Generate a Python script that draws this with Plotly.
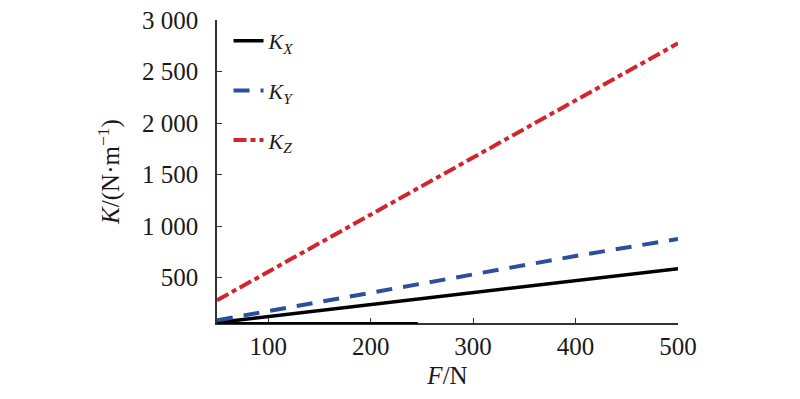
import plotly.graph_objects as go

F = [50, 100, 150, 200, 250, 300, 350, 400, 450, 500]
K_X = [64, 122, 180, 238, 296, 354, 412, 471, 529, 587]
K_Y = [86, 176, 266, 356, 446, 536, 625, 710, 793, 875]
K_Z = [280, 557, 834, 1111, 1388, 1665, 1943, 2220, 2497, 2774]

y_tickvals = [500, 1000, 1500, 2000, 2500, 3000]
y_ticktext = ["500", "1 000", "1 500", "2 000", "2 500", "3 000"]
x_tickvals = [100, 200, 300, 400, 500]

FONT = "Liberation Serif, Times New Roman, Times, serif"

fig = go.Figure()
fig.add_trace(go.Scatter(x=F, y=K_X, mode="lines", name="<i>K</i><sub><i>X</i></sub>",
                         legendgroup="a",
                         line=dict(color="#000000", width=3.5)))
fig.add_trace(go.Scatter(x=F, y=K_Y, mode="lines", name="<i>K</i><sub><i>Y</i></sub>",
                         legendgroup="b",
                         line=dict(color="#2C4EA0", width=4, dash="16px,11px")))
fig.add_trace(go.Scatter(x=F, y=K_Z, mode="lines", name="<i>K</i><sub><i>Z</i></sub>",
                         legendgroup="c",
                         line=dict(color="#D2252D", width=4, dash="13px,4px,5px,4px")))

# dark segment along the bottom axis seen in the reference
fig.add_shape(type="line", xref="x", yref="y domain", x0=50, x1=246, y0=0, y1=0,
              line=dict(color="#000000", width=2))

fig.update_layout(
    width=800, height=399,
    margin=dict(l=209, r=130, t=12, b=84, autoexpand=False),
    paper_bgcolor="white", plot_bgcolor="white",
    font=dict(family=FONT, size=25, color="#1a1a1a"),
    showlegend=True,
    legend=dict(x=0.025, y=1.0, xanchor="left", yanchor="top",
                bgcolor="rgba(0,0,0,0)", font=dict(size=22, family=FONT),
                tracegroupgap=18, itemwidth=30),
)
fig.update_xaxes(range=[50, 500], tickvals=x_tickvals, ticks="inside", ticklen=5,
                 tickwidth=1.2, tickcolor="#333", showline=True, linecolor="#333",
                 linewidth=1.5, showgrid=False, zeroline=False, automargin=False,
                 ticklabeloverflow="allow",
                 title=dict(text="<i>F</i>/N", standoff=8, font=dict(size=25)))
fig.update_yaxes(range=[60, 3000], tickvals=y_tickvals, ticktext=y_ticktext,
                 ticks="inside", ticklen=5, tickwidth=1.2, tickcolor="#333",
                 showline=True, linecolor="#333", linewidth=1.5, showgrid=False,
                 zeroline=False, ticklabelstandoff=12, automargin=False,
                 ticklabeloverflow="allow",
                 title=dict(text="<i>K</i>/(N·m<sup>−1</sup>)", standoff=15, font=dict(size=25)))

fig.write_html("out.html")
